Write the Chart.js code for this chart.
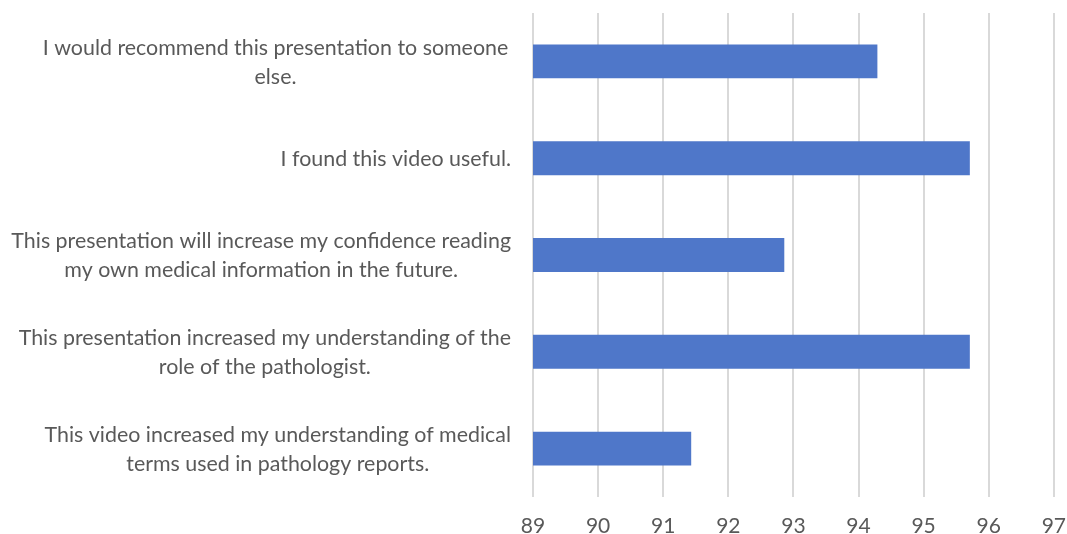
<!DOCTYPE html>
<html>
<head>
<meta charset="utf-8">
<script src="https://cdn.jsdelivr.net/npm/chart.js@4"></script>
<style>
html,body{margin:0;padding:0;background:#fff;}
#wrap{width:1067px;height:534px;}
</style>
</head>
<body>
<div id="wrap"><canvas id="c" width="1067" height="534"></canvas></div>
<script>
const categories = [
  ["I would recommend this presentation to someone ", "else."],
  ["I found this video useful."],
  ["This presentation will increase my confidence reading", "my own medical information in the future."],
  ["This presentation increased my understanding of the", "role of the pathologist."],
  ["This video increased my understanding of medical", "terms used in pathology reports."]
];
const values = [94.29, 95.71, 92.86, 95.71, 91.43];
const xTicks = [89, 90, 91, 92, 93, 94, 95, 96, 97];

const FONT = 'Lato, "Open Sans", sans-serif';
const TEXT = '#595959';

const labelPlugin = {
  id: 'blockLabels',
  afterDraw(chart) {
    const ctx = chart.ctx;
    const ys = chart.scales.y;
    const rightEdge = chart.chartArea.left - 22;
    const lh = 29;
    ctx.save();
    ctx.font = '21.4px ' + FONT;
    ctx.fillStyle = TEXT;
    ctx.textAlign = 'center';
    ctx.textBaseline = 'middle';
    categories.forEach((lines, i) => {
      const cy = ys.getPixelForValue(i) + 1;
      let w = 0;
      lines.forEach(l => { w = Math.max(w, ctx.measureText(l).width); });
      const cx = rightEdge - w / 2;
      const y0 = cy - (lines.length - 1) * lh / 2;
      lines.forEach((l, k) => ctx.fillText(l.trim(), cx, y0 + k * lh));
    });
    ctx.restore();
  }
};

new Chart(document.getElementById('c'), {
  type: 'bar',
  data: {
    labels: categories.map(c => c.join(' ')),
    datasets: [{
      data: values,
      backgroundColor: '#4F77C9',
      borderWidth: 0,
      categoryPercentage: 1.0,
      barPercentage: 0.35
    }]
  },
  options: {
    indexAxis: 'y',
    responsive: false,
    animation: false,
    devicePixelRatio: 1,
    layout: { padding: { top: 13, right: 0, left: 0, bottom: 0 } },
    plugins: { legend: { display: false }, tooltip: { enabled: false } },
    scales: {
      x: {
        min: xTicks[0],
        max: xTicks[xTicks.length - 1],
        afterBuildTicks(scale) { scale.ticks = xTicks.map(v => ({ value: v })); },
        afterFit(scale) { scale.height = 37; },
        grid: { color: '#d9d9d9', lineWidth: 2, drawTicks: false },
        border: { display: false },
        ticks: { color: TEXT, font: { family: FONT, size: 21, lineHeight: 2.65 }, padding: 1 }
      },
      y: {
        afterFit(scale) { scale.width = 533; },
        grid: { display: false },
        border: { display: false },
        ticks: { display: false }
      }
    }
  },
  plugins: [labelPlugin]
});
</script>
</body>
</html>
